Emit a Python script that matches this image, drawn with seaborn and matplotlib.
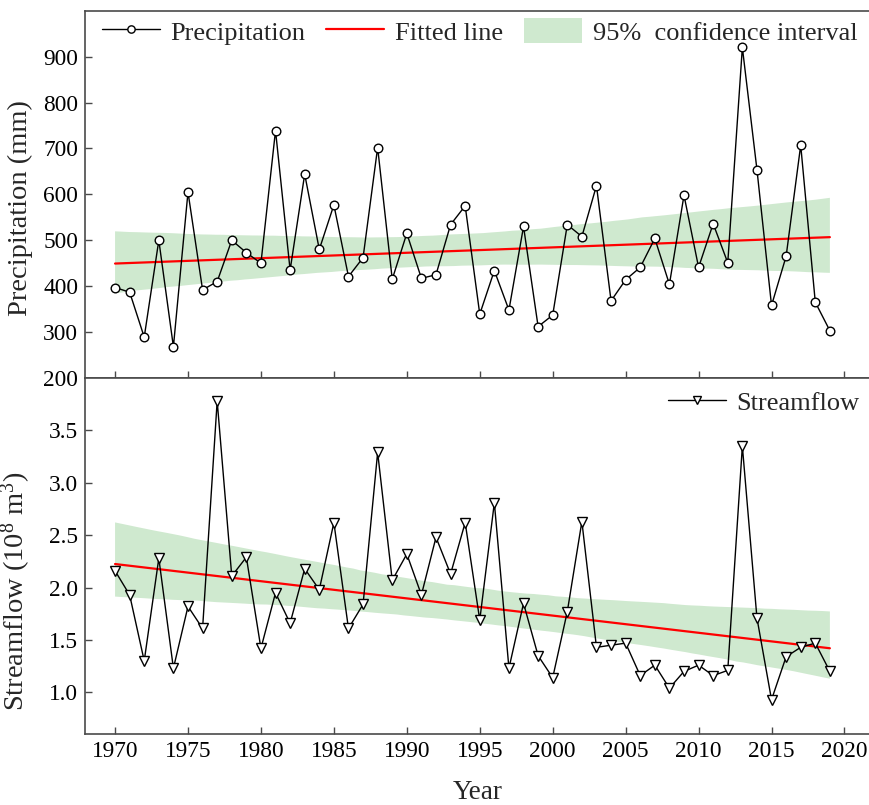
import numpy as np
import pandas as pd
import matplotlib
matplotlib.use("Agg")
import matplotlib.pyplot as plt
import seaborn as sns

# ---------------- data ----------------
years = list(range(1970, 2020))
precipitation = [397, 387, 289, 500, 268, 605, 392, 410, 500, 473,
                 450, 739, 435, 644, 480, 577, 421, 462, 702, 415,
                 515, 417, 425, 534, 575, 339, 434, 348, 530, 312,
                 337, 534, 508, 619, 368, 414, 441, 504, 404, 598,
                 441, 536, 451, 920, 654, 358, 465, 707, 365, 303]
streamflow = [2.16, 1.93, 1.30, 2.28, 1.23, 1.82, 1.61, 3.78, 2.11, 2.29,
              1.42, 1.95, 1.66, 2.18, 1.98, 2.62, 1.61, 1.84, 3.29, 2.07,
              2.32, 1.93, 2.48, 2.13, 2.62, 1.69, 2.81, 1.23, 1.85, 1.35,
              1.14, 1.77, 2.63, 1.43, 1.45, 1.47, 1.16, 1.26, 1.04, 1.20,
              1.26, 1.16, 1.21, 3.35, 1.71, 0.93, 1.34, 1.43, 1.47, 1.20]
x_ticks = [1970, 1975, 1980, 1985, 1990, 1995, 2000, 2005, 2010, 2015, 2020]
prec_ticks = [200, 300, 400, 500, 600, 700, 800, 900]
flow_ticks = [1.0, 1.5, 2.0, 2.5, 3.0, 3.5]
legend_top = ["Precipitation", "Fitted line", "95%  confidence interval"]
legend_bottom = ["Streamflow"]

df = pd.DataFrame({"Year": years, "Precipitation": precipitation,
                   "Streamflow": streamflow})

# ---------------- style ----------------
sns.set_theme(style="ticks")
plt.rcParams["font.family"] = ["Liberation Serif", "DejaVu Serif"]
plt.rcParams["mathtext.fontset"] = "custom"
plt.rcParams["mathtext.rm"] = "Liberation Serif"
plt.rcParams["mathtext.it"] = "Liberation Serif:italic"
plt.rcParams["mathtext.default"] = "regular"

BAND = "#cfe9cf"
SPINE = "#4a4a4a"
W, H = 870, 805

fig = plt.figure(figsize=(W / 100, H / 100), dpi=100)
ax1 = fig.add_axes([85 / W, (H - 378) / H, (W - 85) / W, (378 - 10.7) / H])
ax2 = fig.add_axes([85 / W, (H - 734.3) / H, (W - 85) / W, (734.3 - 378) / H])


def draw(ax, col, marker, msize):
    sns.regplot(data=df, x="Year", y=col, ax=ax, scatter=False, ci=95,
                n_boot=2000, seed=7, color="red", truncate=True,
                line_kws=dict(lw=1.6, zorder=2))
    band = ax.collections[-1]
    band.set_facecolor(BAND)
    band.set_alpha(1)
    band.set_edgecolor("none")
    band.set_zorder(1)
    fit = ax.lines[-1]
    sns.lineplot(data=df, x="Year", y=col, ax=ax, color="black", lw=1.0,
                 marker=marker, markersize=msize, markerfacecolor="white",
                 markeredgecolor="black", markeredgewidth=1.0, zorder=3)
    data_line = ax.lines[-1]
    return data_line, fit, band


l1, f1, b1 = draw(ax1, "Precipitation", "o", 6.2)
l2, f2, b2 = draw(ax2, "Streamflow", "v", 7.3)

for ax in (ax1, ax2):
    ax.set_xlim(1967.94, 2021.75)
    ax.set_xticks(x_ticks)
    ax.tick_params(direction="in", length=5, width=1, labelsize=16.8, pad=5,
                   color=SPINE, labelcolor="black")
    ax.spines["right"].set_visible(False)
    for s in ("left", "top", "bottom"):
        ax.spines[s].set_color(SPINE)
        ax.spines[s].set_linewidth(1.2)

ax1.set_ylim(200, 1000)
ax1.set_yticks(prec_ticks)
ax1.tick_params(labelbottom=False)
ax1.set_xlabel("")
ax1.set_ylabel("Precipitation (mm)", fontsize=20.5)
ax1.yaxis.set_label_coords(-0.066, 0.464)

ax2.set_ylim(0.6, 4.0)
ax2.set_yticks(flow_ticks)
ax2.set_yticklabels([f"{v:.1f}" for v in flow_ticks])
ax2.set_ylabel("Streamflow (10$^{8}$ m$^{3}$)", fontsize=20.5)
ax2.yaxis.set_label_coords(-0.066, 0.4)
ax2.set_xlabel("Year", fontsize=19.5)
ax2.xaxis.set_label_coords(0.5, -0.127)

ax1.legend([l1, f1, b1], legend_top, ncol=3, loc="center left",
           bbox_to_anchor=(0.0213, 0.943), frameon=False, fontsize=19,
           handlelength=2.2, handleheight=1.06, handletextpad=0.4,
           columnspacing=0.8, borderpad=0, borderaxespad=0, markerscale=0.85)
ax2.legend([l2], legend_bottom, loc="center right",
           bbox_to_anchor=(0.987, 0.93), frameon=False, fontsize=19,
           handlelength=2.2, handletextpad=0.4, borderpad=0,
           borderaxespad=0, markerscale=0.85)

fig.savefig("out.png", dpi=100)
